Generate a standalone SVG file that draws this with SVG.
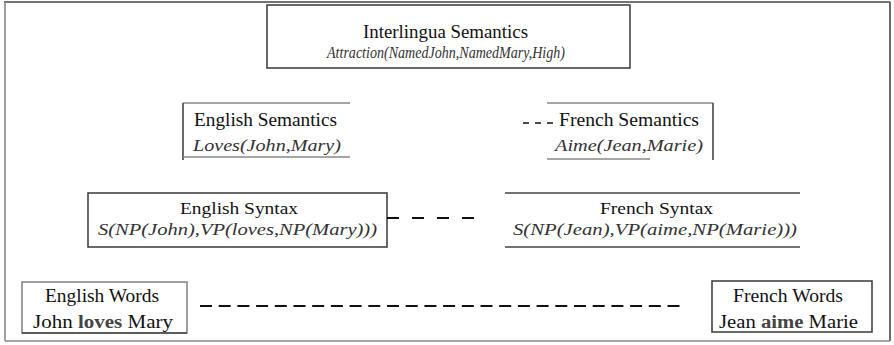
<svg xmlns="http://www.w3.org/2000/svg" width="894" height="345" viewBox="0 0 894 345" font-family="Liberation Serif, Times New Roman, serif">
<style>
text{font-size:18px;fill:#111}
.i{font-style:italic;fill:#333;font-size:16px}
.b{fill:none;stroke:#444;stroke-width:1.6}
.g{fill:none;stroke:#888;stroke-width:1.6}
.d{fill:none;stroke:#111;stroke-width:2}
</style>
<rect width="894" height="345" fill="#fff"/>
<g id="frame">
<line x1="4" y1="2" x2="890" y2="2" class="b"/>
<line x1="5" y1="2" x2="5" y2="341" class="g"/>
<line x1="890" y1="2" x2="890" y2="341" class="b"/>
<line x1="5" y1="341" x2="890" y2="341" class="g"/>
</g>
<g id="interlingua">
<rect x="267" y="5" width="363" height="63" class="b"/>
<text x="363" y="38" font-family="Liberation Serif" textLength="165" lengthAdjust="spacingAndGlyphs">Interlingua Semantics</text>
<text x="327" y="58" class="i" textLength="238" lengthAdjust="spacingAndGlyphs">Attraction(NamedJohn,NamedMary,High)</text>
</g>
<g id="english-semantics">
<line x1="183" y1="103" x2="350" y2="103" class="g"/>
<line x1="183" y1="103" x2="183" y2="160" class="b"/>
<line x1="183" y1="157" x2="350" y2="157" class="g"/>
<text x="194" y="126" textLength="143" lengthAdjust="spacingAndGlyphs">English Semantics</text>
<text x="193" y="151" class="i" textLength="148" lengthAdjust="spacingAndGlyphs">Loves(John,Mary)</text>
</g>
<g id="french-semantics">
<line x1="547" y1="103" x2="713" y2="103" class="g"/>
<line x1="713" y1="103" x2="713" y2="160" class="b"/>
<line x1="547" y1="159" x2="650" y2="159" class="g"/>
<text x="559" y="126" textLength="140" lengthAdjust="spacingAndGlyphs">French Semantics</text>
<text x="555" y="151" class="i" textLength="148" lengthAdjust="spacingAndGlyphs">Aime(Jean,Marie)</text>
</g>
<g id="english-syntax">
<rect x="88" y="193" width="299" height="54" class="b"/>
<text x="180" y="214" style="font-size:16px" textLength="118" lengthAdjust="spacingAndGlyphs">English Syntax</text>
<text x="98" y="235" class="i" textLength="279" lengthAdjust="spacingAndGlyphs">S(NP(John),VP(loves,NP(Mary)))</text>
</g>
<g id="french-syntax">
<line x1="505" y1="193" x2="800" y2="193" class="b"/>
<line x1="505" y1="247" x2="800" y2="247" class="b"/>
<text x="600" y="214" style="font-size:16px" textLength="113" lengthAdjust="spacingAndGlyphs">French Syntax</text>
<text x="513" y="235" class="i" textLength="284" lengthAdjust="spacingAndGlyphs">S(NP(Jean),VP(aime,NP(Marie)))</text>
</g>
<g id="english-words">
<rect x="22" y="282" width="165" height="51" class="g"/>
<line x1="22" y1="333" x2="187" y2="333" class="b"/>
<text x="45" y="302" textLength="114" lengthAdjust="spacingAndGlyphs">English Words</text>
<text x="33" y="328" textLength="140" lengthAdjust="spacingAndGlyphs">John <tspan font-weight="bold" fill="#444">loves</tspan> Mary</text>
</g>
<g id="french-words">
<rect x="712" y="281" width="160" height="51" class="b"/>
<text x="733" y="302" textLength="110" lengthAdjust="spacingAndGlyphs">French Words</text>
<text x="719" y="328" textLength="139" lengthAdjust="spacingAndGlyphs">Jean <tspan font-weight="bold" fill="#444">aime</tspan> Marie</text>
</g>
<g id="connectors">
<line x1="523" y1="123" x2="557" y2="123" stroke="#111" stroke-width="1.3" stroke-dasharray="6 6"/>
<line x1="387" y1="218" x2="476" y2="218" class="d" style="stroke-dasharray:12 13"/>
<line x1="200" y1="306" x2="681" y2="306" class="d" style="stroke-dasharray:12 6.7"/>
</g>
</svg>
